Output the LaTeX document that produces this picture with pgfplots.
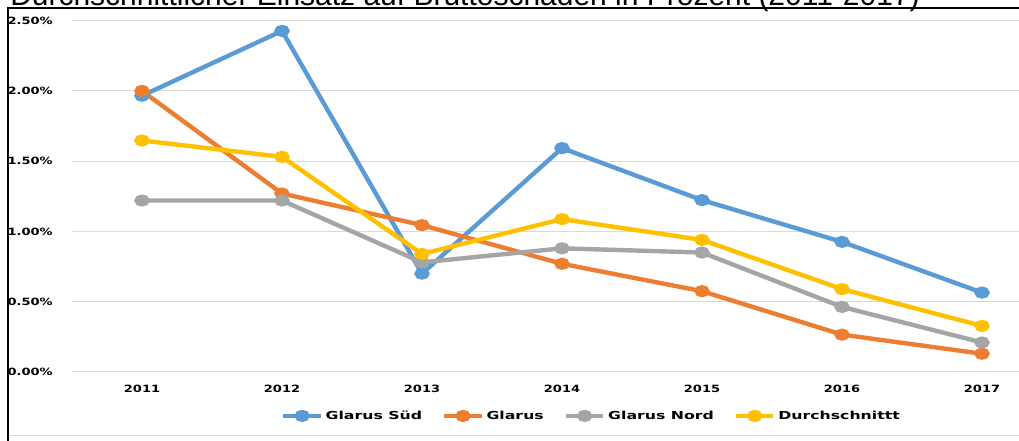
\documentclass[border=0pt]{standalone}
\usepackage{fontspec}
\setmainfont{DejaVu Sans}
\newfontfamily\titlefont{Liberation Sans}
\usepackage{pgfplots}
\pgfplotsset{compat=1.18}
\definecolor{cBlue}{HTML}{5B9BD5}
\definecolor{cOrange}{HTML}{ED7D31}
\definecolor{cGray}{HTML}{A5A5A5}
\definecolor{cGold}{HTML}{FFC000}
\definecolor{cGrid}{HTML}{D9D9D9}
\newcommand{\tl}[1]{\scalebox{1.3}[1]{#1}}
\newcommand{\lt}[1]{\scalebox{1.43}[1]{#1}}
\begin{document}
\begin{tikzpicture}
\begin{scope}[x=0.75pt,y=0.75pt]
\clip (0,0) rectangle (1019,441);
\node[anchor=base west, inner sep=0pt] at (10,435) {\resizebox{682pt}{!}{\titlefont Durchschnittlicher Einsatz auf Bruttoschaden in Prozent (2011-2017)}};
\draw[cGrid, line width=0.75pt] (8.3,5.7) -- (1019,5.7);
\draw[black, line width=1.5pt] (8.3,0) -- (8.3,432.7) -- (1019,432.7);
\end{scope}
\begin{axis}[
  at={(54pt,51.75pt)}, anchor=south west, scale only axis,
  width=710.25pt, height=263.5pt,
  xmin=-0.5, xmax=6.2643, ymin=0, ymax=2.5,
  axis line style={draw=none},
  major tick length=0pt,
  ymajorgrids, grid style={cGrid, line width=0.75pt},
  xtick={0,1,2,3,4,5,6},
  xticklabels={\tl{2011},\tl{2012},\tl{2013},\tl{2014},\tl{2015},\tl{2016},\tl{2017}},
  ytick={0,0.5,1,1.5,2,2.5},
  yticklabels={\tl{0.00\%},\tl{0.50\%},\tl{1.00\%},\tl{1.50\%},\tl{2.00\%},\tl{2.50\%}},
  ticklabel style={font=\bfseries\fontsize{7.5}{9}\selectfont},
  yticklabel style={anchor=east, xshift=-11pt},
  xticklabel style={yshift=-6pt},
  legend columns=4,
  legend style={at={(axis description cs:0.549,-0.125)}, anchor=center, draw=none, fill=none,
    font=\bfseries\fontsize{8.25}{10}\selectfont,
    /tikz/every even column/.append style={column sep=13pt}},
  legend image code/.code={\draw[mark repeat=2,mark phase=2] plot coordinates {(0pt,0pt)(14pt,0pt)(28pt,0pt)};},
  every axis plot/.append style={line width=3.3pt, mark=*, mark size=2.9pt, mark options={xscale=1.4, solid}},
]
\addplot[color=cBlue] coordinates {(0,1.966)(1,2.427)(2,0.70)(3,1.593)(4,1.223)(5,0.926)(6,0.565)};
\addlegendentry{\lt{Glarus Süd}}
\addplot[color=cOrange] coordinates {(0,2.00)(1,1.27)(2,1.045)(3,0.77)(4,0.575)(5,0.266)(6,0.13)};
\addlegendentry{\lt{Glarus}}
\addplot[color=cGray] coordinates {(0,1.22)(1,1.22)(2,0.78)(3,0.88)(4,0.85)(5,0.463)(6,0.21)};
\addlegendentry{\lt{Glarus Nord}}
\addplot[color=cGold] coordinates {(0,1.647)(1,1.531)(2,0.84)(3,1.088)(4,0.94)(5,0.59)(6,0.328)};
\addlegendentry{\lt{Durchschnittt}}
\end{axis}
\pgfresetboundingbox
\useasboundingbox (0,0) rectangle (764.25pt,330.75pt);
\end{tikzpicture}
\end{document}
